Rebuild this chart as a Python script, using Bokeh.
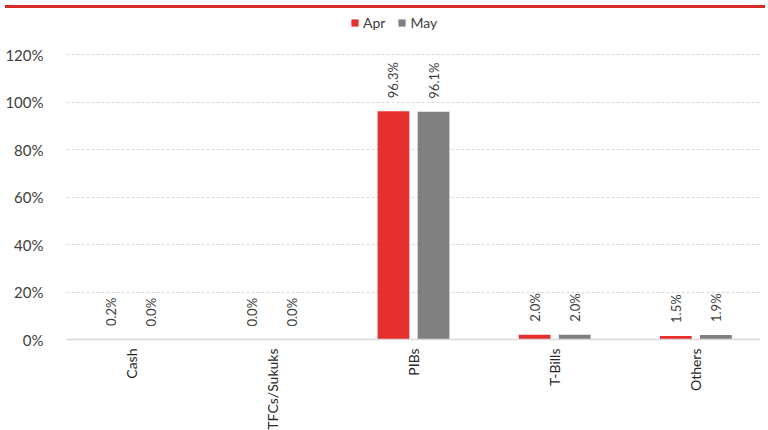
import math
from bokeh.plotting import figure
from bokeh.models import (ColumnDataSource, FactorRange, Range1d, FixedTicker,
                          PrintfTickFormatter, LabelSet, Legend, LegendItem, Div)
from bokeh.core.properties import value
from bokeh.transform import dodge
from bokeh.layouts import column
from bokeh.embed import file_html
from bokeh.resources import INLINE

categories = ["Cash", "TFCs/Sukuks", "PIBs", "T-Bills", "Others"]
apr = [0.2, 0.0, 96.3, 2.0, 1.5]
may = [0.0, 0.0, 96.1, 2.0, 1.9]
y_ticks = [0, 20, 40, 60, 80, 100, 120]

FONT = "Lato"
RED = "#E5302E"
GRAY = "#808080"

src = ColumnDataSource(dict(
    cat=categories, apr=apr, may=may,
    apr_lbl=[f"{v:.1f}%" for v in apr],
    may_lbl=[f"{v:.1f}%" for v in may],
))

xr = FactorRange(factors=categories, range_padding=-0.042,
                 range_padding_units="absolute")
p = figure(x_range=xr, y_range=Range1d(0, 137.5),
           width=760, height=419, output_backend="svg", toolbar_location=None,
           min_border_left=66, min_border_right=0, min_border_top=0,
           min_border_bottom=89)
p.outline_line_color = None

r1 = p.vbar(x=dodge("cat", -0.142, range=p.x_range), top="apr", width=0.225,
            source=src, fill_color=RED, line_color=None)
r2 = p.vbar(x=dodge("cat", 0.142, range=p.x_range), top="may", width=0.225,
            source=src, fill_color=GRAY, line_color=None)

for xcol, lcol in (("apr", "apr_lbl"), ("may", "may_lbl")):
    off = -0.142 if xcol == "apr" else 0.142
    labels = LabelSet(x=dodge("cat", off, range=p.x_range), y=xcol, text=lcol,
                      source=src, angle=math.pi / 2, text_align="left",
                      text_baseline="middle", y_offset=13,
                      text_font=value(FONT), text_font_size=value("13px"),
                      text_color=value("#404040"))
    p.add_layout(labels)

legend = Legend(items=[LegendItem(label="Apr", renderers=[r1]),
                       LegendItem(label="May", renderers=[r2])],
                location=(284, 308), orientation="horizontal",
                glyph_width=9, glyph_height=9, label_text_font=FONT,
                label_text_font_size="14px", label_text_color="#404040",
                spacing=12, padding=2, margin=0, border_line_color=None,
                background_fill_alpha=0, label_standoff=4)
p.add_layout(legend, "center")

p.yaxis.ticker = FixedTicker(ticks=y_ticks)
p.yaxis.formatter = PrintfTickFormatter(format="%d%%")
p.yaxis.axis_line_color = None
p.yaxis.major_tick_line_color = None
p.yaxis.minor_tick_line_color = None
p.yaxis.major_tick_out = 0
p.yaxis.major_tick_in = 0
p.yaxis.minor_tick_out = 0
p.yaxis.major_label_text_font = FONT
p.yaxis.major_label_text_font_size = "15px"
p.yaxis.major_label_text_color = "#404040"
p.yaxis.major_label_standoff = 23

p.xaxis.axis_line_color = "#D9D9D9"
p.xaxis.axis_line_width = 1.5
p.xaxis.major_tick_line_color = None
p.xaxis.minor_tick_line_color = None
p.xaxis.major_tick_out = 0
p.xaxis.major_tick_in = 0
p.xaxis.minor_tick_out = 0
p.xaxis.major_label_orientation = math.pi / 2
p.xaxis.major_label_text_font = FONT
p.xaxis.major_label_text_font_size = "14px"
p.xaxis.major_label_text_color = "#262626"
p.xaxis.major_label_standoff = 9

p.xgrid.grid_line_color = None
p.ygrid.grid_line_color = "#D9D9D9"
p.ygrid.grid_line_dash = "3 2"
p.ygrid.grid_line_width = 1

bar = Div(width=760, height=3, styles={"background-color": "#D62D2A"})
layout = column(bar, p, spacing=0)

open("out.html", "w").write(file_html(layout, INLINE))
